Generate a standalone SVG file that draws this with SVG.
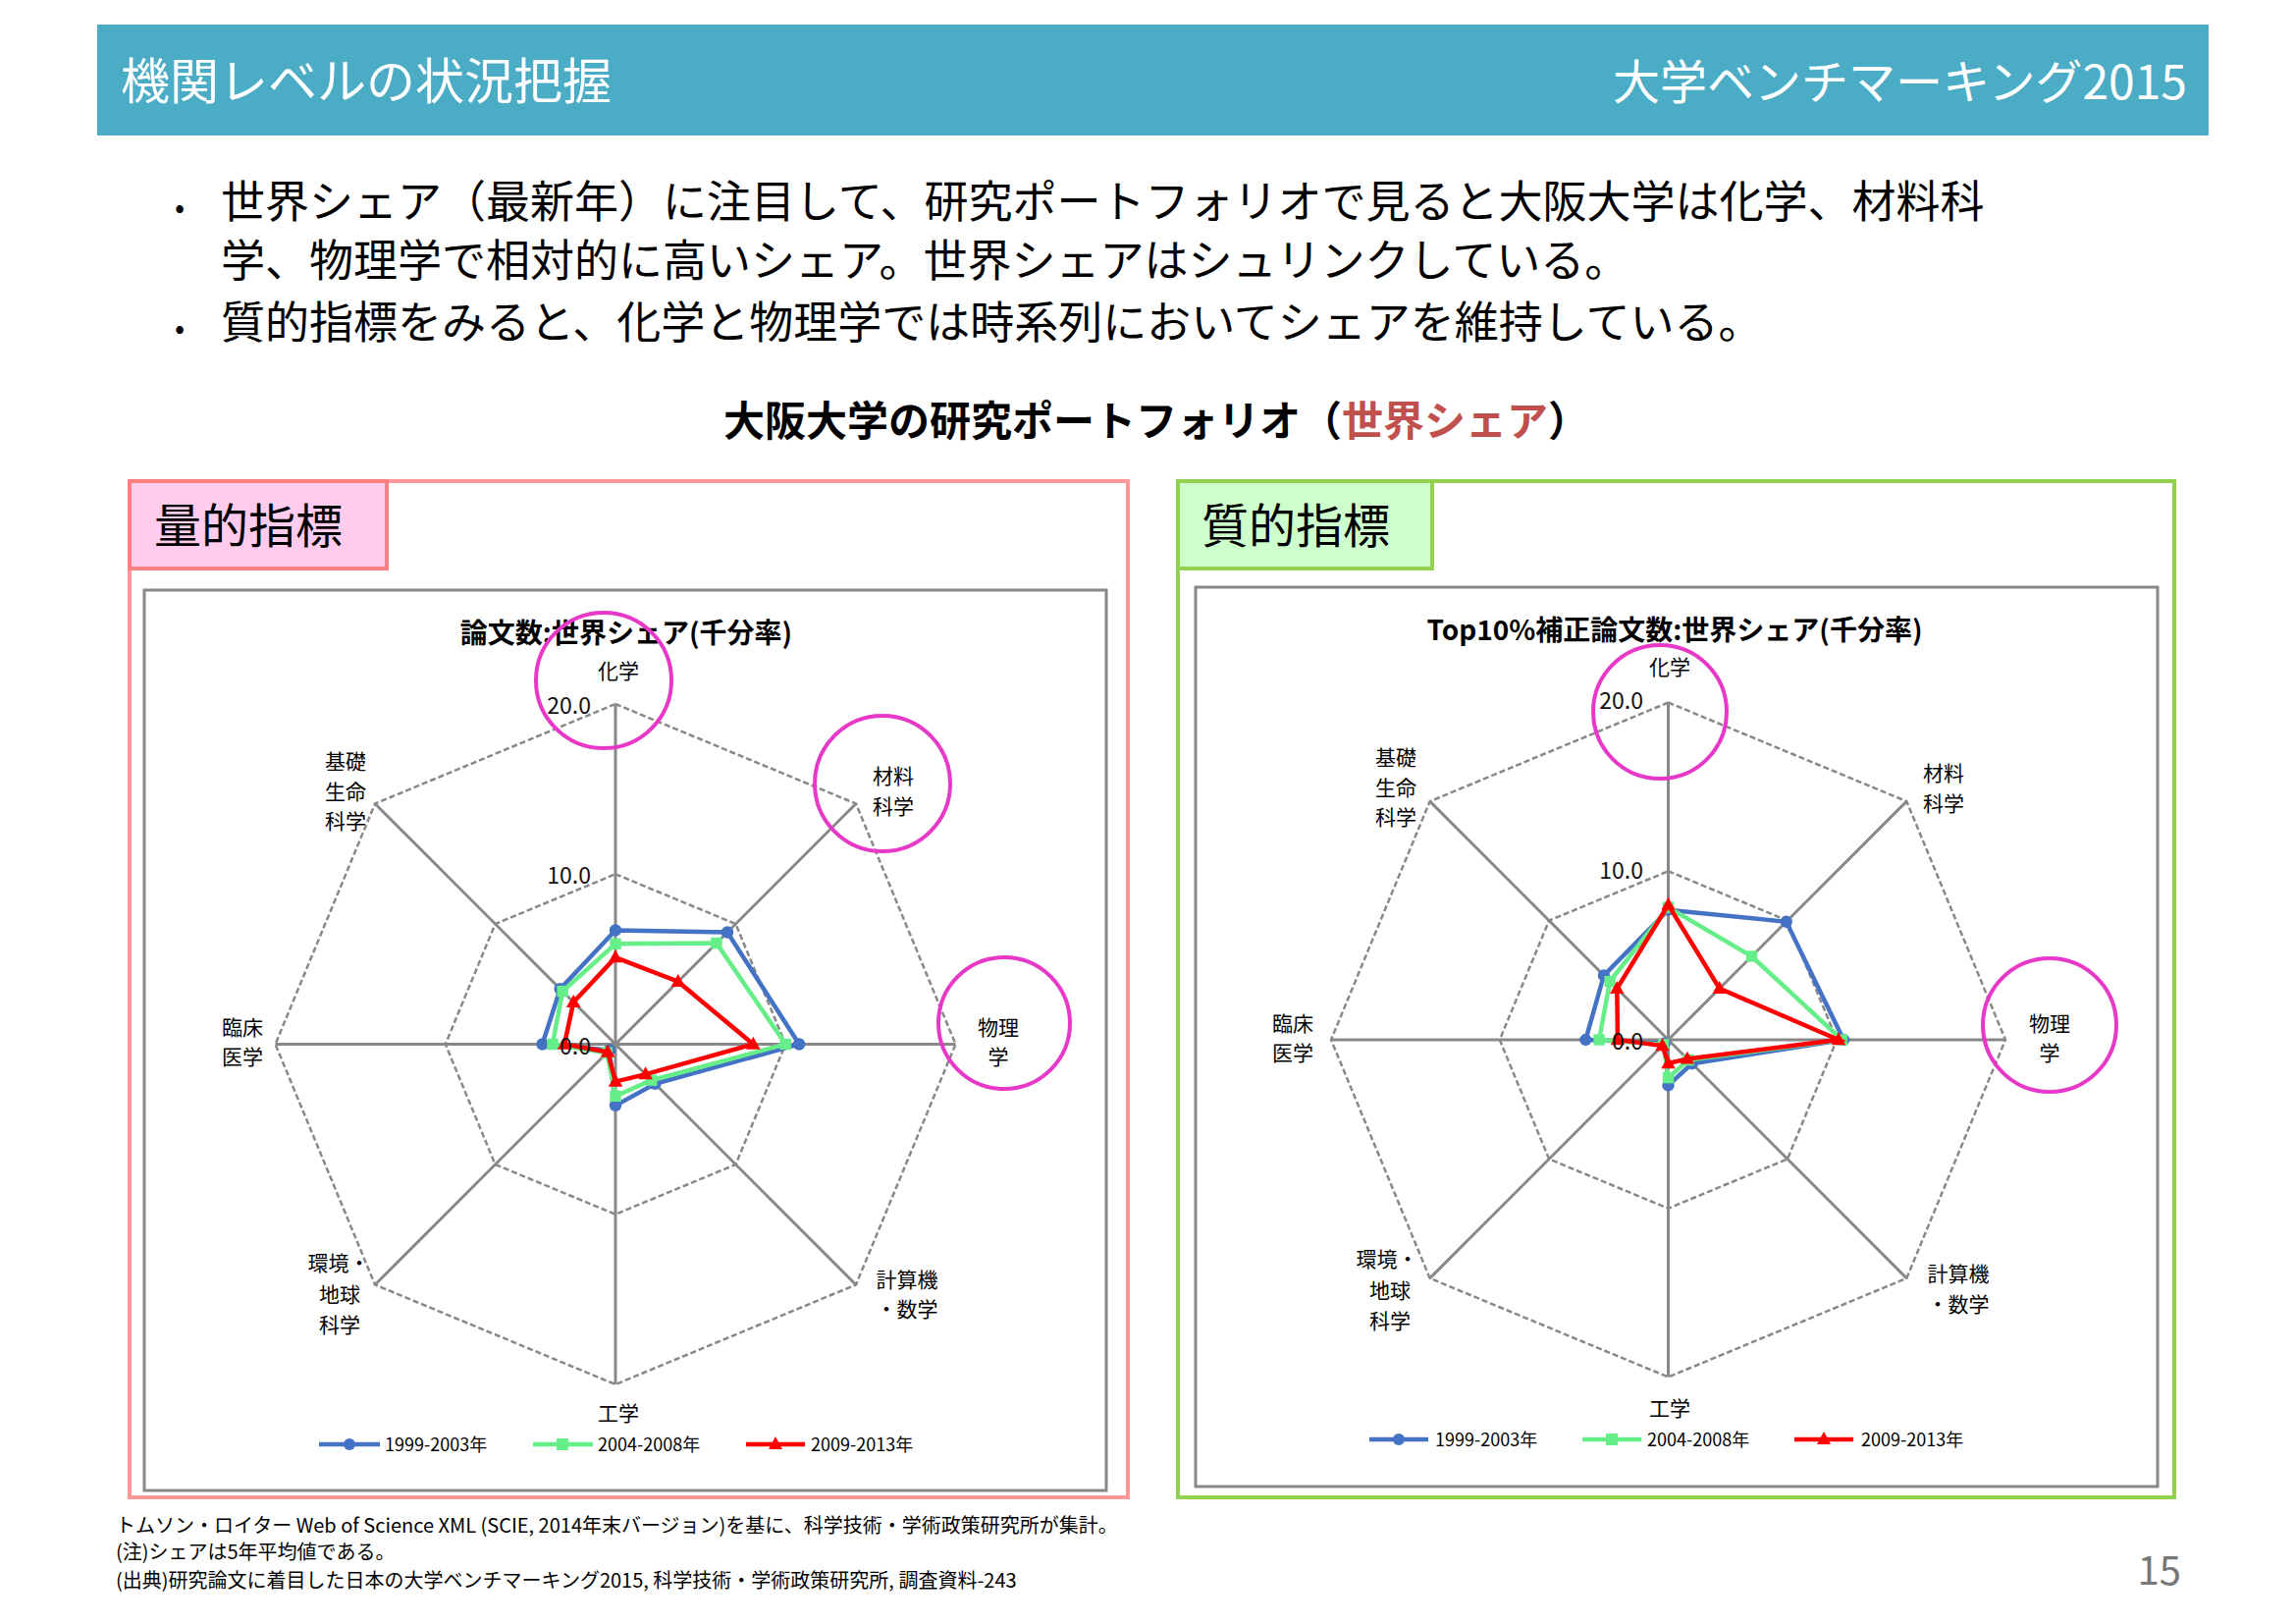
<svg xmlns="http://www.w3.org/2000/svg" xmlns:xlink="http://www.w3.org/1999/xlink" width="2339" height="1654" viewBox="0 0 2339 1654">
<style>
text{font-family:"Noto Sans CJK JP","Liberation Sans",sans-serif;fill:#000}
.ax{font-size:21px;text-anchor:middle}
.sc{font-size:23px;text-anchor:end;fill:#111}
.lg{font-size:18px}
.grid{fill:none;stroke:#888;stroke-width:2.5;stroke-dasharray:6 3}
.spoke{stroke:#888;stroke-width:3}
.ser{fill:none;stroke-width:4.5}
.b{stroke:#4472C4;fill:#4472C4}
.g{stroke:#66EE88;fill:#66EE88}
.r{stroke:#FF0000;fill:#FF0000}
.mk use{stroke:none}
.hl{fill:none;stroke:#E838C8;stroke-width:4}
.fn{font-size:20px}
</style>
<defs>
<g id="grid">
<polygon class="grid" vector-effect="non-scaling-stroke" points="0,-20 14.14,-14.14 20,0 14.14,14.14 0,20 -14.14,14.14 -20,0 -14.14,-14.14"/>
<polygon class="grid" vector-effect="non-scaling-stroke" points="0,-10 7.07,-7.07 10,0 7.07,7.07 0,10 -7.07,7.07 -10,0 -7.07,-7.07"/>
<g class="spoke">
<line vector-effect="non-scaling-stroke" x1="0" y1="0" x2="0" y2="-20"/>
<line vector-effect="non-scaling-stroke" x1="0" y1="0" x2="14.14" y2="-14.14"/>
<line vector-effect="non-scaling-stroke" x1="0" y1="0" x2="20" y2="0"/>
<line vector-effect="non-scaling-stroke" x1="0" y1="0" x2="14.14" y2="14.14"/>
<line vector-effect="non-scaling-stroke" x1="0" y1="0" x2="0" y2="20"/>
<line vector-effect="non-scaling-stroke" x1="0" y1="0" x2="-14.14" y2="14.14"/>
<line vector-effect="non-scaling-stroke" x1="0" y1="0" x2="-20" y2="0"/>
<line vector-effect="non-scaling-stroke" x1="0" y1="0" x2="-14.14" y2="-14.14"/>
</g>
</g>
<circle id="mc" r="0.36"/>
<rect id="ms" x="-0.33" y="-0.33" width="0.66" height="0.66"/>
<polygon id="mt" points="0,-0.45 0.42,0.3 -0.42,0.3"/>
<circle id="lc" r="6"/>
<rect id="ls" x="-6" y="-6" width="12" height="12"/>
<polygon id="lt" points="0,-8 7,5 -7,5"/>
</defs>

<g id="header">
<rect x="99" y="25" width="2151" height="113" fill="#4BACC6"/>
<text x="123" y="101" style="font-size:50px;fill:#fff">機関レベルの状況把握</text>
<text x="2228" y="101" style="font-size:48px;fill:#fff;text-anchor:end">大学ベンチマーキング2015</text>
</g>

<g id="bullets" style="font-size:45px">
<text x="178" y="222" style="font-size:30px">•</text>
<text x="225" y="222">世界シェア（最新年）に注目して、研究ポートフォリオで見ると大阪大学は化学、材料科</text>
<text x="225" y="282">学、物理学で相対的に高いシェア。世界シェアはシュリンクしている。</text>
<text x="178" y="345" style="font-size:30px">•</text>
<text x="225" y="345">質的指標をみると、化学と物理学では時系列においてシェアを維持している。</text>
</g>

<g id="maintitle">
<text x="1178" y="444" style="font-size:42px;font-weight:bold;text-anchor:middle">大阪大学の研究ポートフォリオ（<tspan style="fill:#C0504D">世界シェア</tspan>）</text>
</g>

<g id="leftpanel">
<rect x="132" y="490" width="1017" height="1035" fill="none" stroke="#FF9999" stroke-width="4"/>
<rect x="132" y="490" width="262" height="89" fill="#FFCCEE" stroke="#FF8080" stroke-width="4"/>
<text x="157" y="553" style="font-size:48px">量的指標</text>
<rect x="147" y="601" width="980" height="917" fill="#fff" stroke="#888" stroke-width="3"/>
<text x="638" y="655" style="font-size:28px;font-weight:bold;text-anchor:middle">論文数:世界シェア(千分率)</text>
<g transform="translate(627,1063.5) scale(17.325)">
<use href="#grid"/>
<g class="b mk"><polygon class="ser b" style="fill:none" vector-effect="non-scaling-stroke" points="0,-6.7 6.58,-6.58 10.8,0 2.33,2.33 0,3.6 -0.35,0.35 -4.3,0 -3.25,-3.25"/>
<use href="#mc" x="0" y="-6.7"/><use href="#mc" x="6.58" y="-6.58"/><use href="#mc" x="10.8" y="0"/><use href="#mc" x="2.33" y="2.33"/><use href="#mc" x="0" y="3.6"/><use href="#mc" x="-0.35" y="0.35"/><use href="#mc" x="-4.3" y="0"/><use href="#mc" x="-3.25" y="-3.25"/></g>
<g class="g mk"><polygon class="ser g" style="fill:none" vector-effect="non-scaling-stroke" points="0,-5.9 5.94,-5.94 10,0 2.12,2.12 0,3.05 -0.5,0.5 -3.7,0 -3.11,-3.11"/>
<use href="#ms" x="0" y="-5.9"/><use href="#ms" x="5.94" y="-5.94"/><use href="#ms" x="10" y="0"/><use href="#ms" x="2.12" y="2.12"/><use href="#ms" x="0" y="3.05"/><use href="#ms" x="-0.5" y="0.5"/><use href="#ms" x="-3.7" y="0"/><use href="#ms" x="-3.11" y="-3.11"/></g>
<g class="r mk"><polygon class="ser r" style="fill:none" vector-effect="non-scaling-stroke" points="0,-5.1 3.68,-3.68 8.1,0 1.77,1.77 0,2.2 -0.46,0.46 -3,0 -2.47,-2.47"/>
<use href="#mt" x="0" y="-5.1"/><use href="#mt" x="3.68" y="-3.68"/><use href="#mt" x="8.1" y="0"/><use href="#mt" x="1.77" y="1.77"/><use href="#mt" x="0" y="2.2"/><use href="#mt" x="-0.46" y="0.46"/><use href="#mt" x="-3" y="0"/><use href="#mt" x="-2.47" y="-2.47"/></g>
</g>
<text class="sc" x="602" y="727">20.0</text>
<text class="sc" x="602" y="900">10.0</text>
<text class="sc" x="602" y="1074">0.0</text>
<text class="ax" x="630" y="691">化学</text>
<text class="ax" x="910" y="798">材料</text><text class="ax" x="910" y="829">科学</text>
<text class="ax" x="1017" y="1054">物理</text><text class="ax" x="1017" y="1084">学</text>
<text class="ax" x="924" y="1311">計算機</text><text class="ax" x="924" y="1341">・数学</text>
<text class="ax" x="630" y="1447">工学</text>
<text class="ax" x="345" y="1294">環境・</text><text class="ax" x="346" y="1326">地球</text><text class="ax" x="346" y="1357">科学</text>
<text class="ax" x="247" y="1054">臨床</text><text class="ax" x="247" y="1084">医学</text>
<text class="ax" x="352" y="783">基礎</text><text class="ax" x="352" y="814">生命</text><text class="ax" x="352" y="844">科学</text>
<circle class="hl" cx="615" cy="693" r="69"/>
<circle class="hl" cx="899" cy="798" r="69"/>
<circle class="hl" cx="1023" cy="1042" r="67"/>
<g id="legendL">
<line class="b" x1="325" y1="1471" x2="387" y2="1471" stroke-width="4.5"/><use class="b" href="#lc" x="356" y="1471" style="stroke:none"/>
<text class="lg" x="392" y="1478">1999-2003年</text>
<line class="g" x1="543" y1="1471" x2="604" y2="1471" stroke-width="4.5"/><use class="g" href="#ls" x="573" y="1471" style="stroke:none"/>
<text class="lg" x="609" y="1478">2004-2008年</text>
<line class="r" x1="760" y1="1471" x2="820" y2="1471" stroke-width="4.5"/><use class="r" href="#lt" x="790" y="1471" style="stroke:none"/>
<text class="lg" x="826" y="1478">2009-2013年</text>
</g>
</g>

<g id="rightpanel">
<rect x="1200" y="490" width="1015" height="1035" fill="none" stroke="#92D050" stroke-width="4"/>
<rect x="1200" y="490" width="259" height="89" fill="#CCFFCC" stroke="#92D050" stroke-width="4"/>
<text x="1224" y="553" style="font-size:48px">質的指標</text>
<rect x="1218" y="598" width="980" height="916" fill="#fff" stroke="#888" stroke-width="3"/>
<text x="1706" y="652" style="font-size:28px;font-weight:bold;text-anchor:middle">Top10%補正論文数:世界シェア(千分率)</text>
<g transform="translate(1699.5,1059) scale(17.175)">
<use href="#grid"/>
<g class="b mk"><polygon class="ser b" style="fill:none" vector-effect="non-scaling-stroke" points="0,-7.7 7,-7 10.4,0 1.41,1.41 0,2.7 -0.21,0.21 -4.9,0 -3.82,-3.82"/>
<use href="#mc" x="0" y="-7.7"/><use href="#mc" x="7" y="-7"/><use href="#mc" x="10.4" y="0"/><use href="#mc" x="1.41" y="1.41"/><use href="#mc" x="0" y="2.7"/><use href="#mc" x="-0.21" y="0.21"/><use href="#mc" x="-4.9" y="0"/><use href="#mc" x="-3.82" y="-3.82"/></g>
<g class="g mk"><polygon class="ser g" style="fill:none" vector-effect="non-scaling-stroke" points="0,-7.85 4.95,-4.95 10.3,0 1.2,1.2 0,2.25 -0.28,0.28 -4.1,0 -3.46,-3.46"/>
<use href="#ms" x="0" y="-7.85"/><use href="#ms" x="4.95" y="-4.95"/><use href="#ms" x="10.3" y="0"/><use href="#ms" x="1.2" y="1.2"/><use href="#ms" x="0" y="2.25"/><use href="#ms" x="-0.28" y="0.28"/><use href="#ms" x="-4.1" y="0"/><use href="#ms" x="-3.46" y="-3.46"/></g>
<g class="r mk"><polygon class="ser r" style="fill:none" vector-effect="non-scaling-stroke" points="0,-8 3.04,-3.04 10.1,0 1.13,1.13 0,1.4 -0.35,0.35 -3,0 -3.04,-3.04"/>
<use href="#mt" x="0" y="-8"/><use href="#mt" x="3.04" y="-3.04"/><use href="#mt" x="10.1" y="0"/><use href="#mt" x="1.13" y="1.13"/><use href="#mt" x="0" y="1.4"/><use href="#mt" x="-0.35" y="0.35"/><use href="#mt" x="-3" y="0"/><use href="#mt" x="-3.04" y="-3.04"/></g>
</g>
<text class="sc" x="1674" y="722">20.0</text>
<text class="sc" x="1674" y="895">10.0</text>
<text class="sc" x="1674" y="1069">0.0</text>
<text class="ax" x="1701" y="687">化学</text>
<text class="ax" x="1980" y="795">材料</text><text class="ax" x="1980" y="826">科学</text>
<text class="ax" x="2088" y="1050">物理</text><text class="ax" x="2088" y="1080">学</text>
<text class="ax" x="1995" y="1305">計算機</text><text class="ax" x="1995" y="1336">・数学</text>
<text class="ax" x="1701" y="1442">工学</text>
<text class="ax" x="1413" y="1290">環境・</text><text class="ax" x="1416" y="1322">地球</text><text class="ax" x="1416" y="1353">科学</text>
<text class="ax" x="1317" y="1050">臨床</text><text class="ax" x="1317" y="1080">医学</text>
<text class="ax" x="1422" y="779">基礎</text><text class="ax" x="1422" y="810">生命</text><text class="ax" x="1422" y="840">科学</text>
<circle class="hl" cx="1691" cy="725" r="68"/>
<circle class="hl" cx="2088" cy="1044" r="68"/>
<g id="legendR">
<line class="b" x1="1395" y1="1466" x2="1455" y2="1466" stroke-width="4.5"/><use class="b" href="#lc" x="1425" y="1466" style="stroke:none"/>
<text class="lg" x="1462" y="1473">1999-2003年</text>
<line class="g" x1="1612" y1="1466" x2="1672" y2="1466" stroke-width="4.5"/><use class="g" href="#ls" x="1642" y="1466" style="stroke:none"/>
<text class="lg" x="1678" y="1473">2004-2008年</text>
<line class="r" x1="1828" y1="1466" x2="1888" y2="1466" stroke-width="4.5"/><use class="r" href="#lt" x="1858" y="1466" style="stroke:none"/>
<text class="lg" x="1896" y="1473">2009-2013年</text>
</g>
</g>

<g id="footer">
<text class="fn" x="118" y="1561">トムソン・ロイター Web of Science XML (SCIE, 2014年末バージョン)を基に、科学技術・学術政策研究所が集計。</text>
<text class="fn" x="118" y="1588">(注)シェアは5年平均値である。</text>
<text class="fn" x="118" y="1617">(出典)研究論文に着目した日本の大学ベンチマーキング2015, 科学技術・学術政策研究所, 調査資料-243</text>
<text x="2222" y="1614" style="font-size:40px;fill:#777;text-anchor:end">15</text>
</g>
</svg>
